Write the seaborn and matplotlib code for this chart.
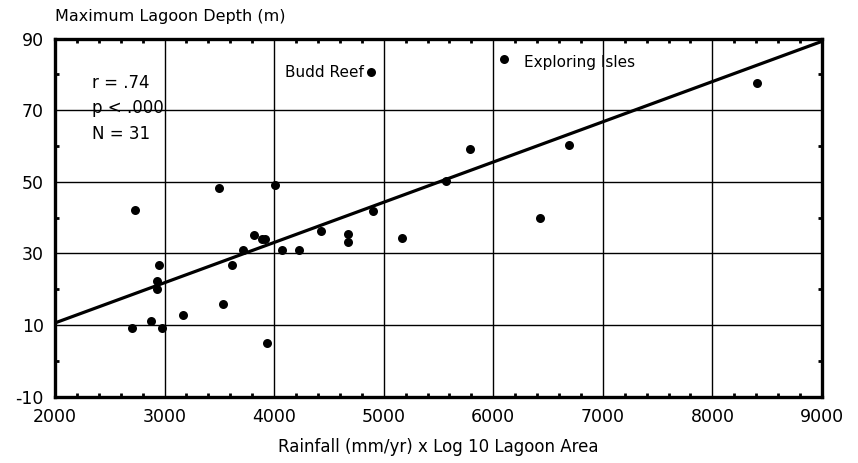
import matplotlib
matplotlib.use("Agg")
import matplotlib.pyplot as plt
import seaborn as sns
import numpy as np
import pandas as pd
from matplotlib.ticker import MultipleLocator

# Data
rainfall = [2730, 2700, 2880, 2980, 2950, 2930, 2930, 3170, 3495, 3530,
            3615, 3715, 3815, 3885, 3915, 4005, 3935, 4075, 4225, 4430,
            4670, 4670, 4905, 5165, 5570, 5790, 6425, 6695, 8410, 6100, 4885]
depth = [42.0, 9.2, 11.2, 9.2, 26.8, 22.3, 20.0, 12.8, 48.2, 15.9,
         26.8, 30.9, 35.2, 34.1, 34.1, 49.2, 4.9, 30.9, 30.9, 36.2,
         35.3, 33.2, 41.9, 34.2, 50.3, 59.1, 39.9, 60.2, 77.5, 84.2, 80.6]
stats_lines = ["r = .74", "p < .000", "N = 31"]
x_ticks = [2000, 3000, 4000, 5000, 6000, 7000, 8000, 9000]
y_ticks = [-10, 10, 30, 50, 70, 90]

df = pd.DataFrame({"rainfall": rainfall, "depth": depth})

sns.set_theme(style="white")
plt.rcParams["font.family"] = ["DejaVu Sans"]
plt.rcParams["axes.unicode_minus"] = False
plt.rcParams["text.color"] = "black"
plt.rcParams["axes.labelcolor"] = "black"
plt.rcParams["xtick.color"] = "black"
plt.rcParams["ytick.color"] = "black"

fig = plt.figure(figsize=(8.58, 4.63), dpi=100)
ax = fig.add_axes([0.0641, 0.1436, 0.958 - 0.0641, 0.9168 - 0.1436])
ax.set_xlim(2000, 9000)
ax.set_ylim(-10, 90)

ax.set_xticks(x_ticks)
ax.set_yticks(y_ticks)
ax.xaxis.set_minor_locator(MultipleLocator(200))
ax.yaxis.set_minor_locator(MultipleLocator(10))
ax.grid(True, which="major", color="black", linewidth=1.0)
ax.set_axisbelow(True)

sns.regplot(data=df, x="rainfall", y="depth", ax=ax, ci=None, truncate=False,
            scatter_kws=dict(s=42, color="black", alpha=1, linewidths=0, zorder=3),
            line_kws=dict(color="black", linewidth=2.3, zorder=4))
ax.set_xlim(2000, 9000)
ax.set_ylim(-10, 90)

for sp in ax.spines.values():
    sp.set_visible(True)
    sp.set_color("black")
    sp.set_linewidth(2.4)

ax.tick_params(axis="both", which="major", length=0, labelsize=12.5, pad=8,
               colors="black")
ax.tick_params(axis="both", which="minor", direction="in", length=3, width=2,
               top=True, right=True, bottom=True, left=True, color="black")
ax.set_xlabel("Rainfall (mm/yr) x Log 10 Lagoon Area", fontsize=12,
              labelpad=9, color="black")
ax.set_ylabel("")

fig.text(55 / 858, 1 - 17 / 463, "Maximum Lagoon Depth (m)", fontsize=11.5,
         ha="left", va="center", color="black")

ax.text(4820, 80.6, "Budd Reef", fontsize=11, ha="right", va="center",
        color="black")
ax.text(6280, 83.4, "Exploring Isles", fontsize=11, ha="left", va="center",
        color="black")

for i, t in enumerate(stats_lines):
    ax.text(2340, 77.7 - i * 7.2, t, fontsize=12, ha="left", va="center",
            color="black")

fig.savefig("out.png", dpi=100, facecolor="white")
